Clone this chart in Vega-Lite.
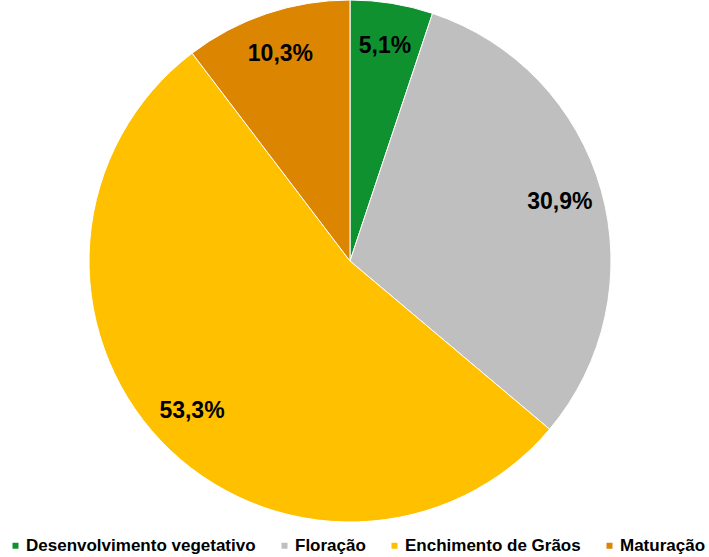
{
  "$schema": "https://vega.github.io/schema/vega-lite/v6.json",
  "width": 700,
  "height": 522,
  "autosize": {"type": "none"},
  "padding": {"left": 0, "right": 9, "top": 0, "bottom": 35},
  "background": "white",
  "config": {"view": {"stroke": null}, "font": "Liberation Sans"},
  "data": {
    "values": [
      {"fase": "Desenvolvimento vegetativo", "valor": 5.1, "rotulo": "5,1%", "ordem": 1},
      {"fase": "Floração", "valor": 30.9, "rotulo": "30,9%", "ordem": 2},
      {"fase": "Enchimento de Grãos", "valor": 53.3, "rotulo": "53,3%", "ordem": 3},
      {"fase": "Maturação", "valor": 10.3, "rotulo": "10,3%", "ordem": 4}
    ]
  },
  "encoding": {
    "theta": {"field": "valor", "type": "quantitative", "stack": true},
    "order": {"field": "ordem", "type": "quantitative"},
    "color": {
      "field": "fase",
      "type": "nominal",
      "sort": ["Desenvolvimento vegetativo", "Floração", "Enchimento de Grãos", "Maturação"],
      "scale": {
        "domain": ["Desenvolvimento vegetativo", "Floração", "Enchimento de Grãos", "Maturação"],
        "range": ["#0F9130", "#BFBFBF", "#FFC000", "#DC8500"]
      },
      "legend": {
        "orient": "none",
        "legendX": 7,
        "legendY": 537,
        "direction": "horizontal",
        "title": null,
        "symbolType": "square",
        "symbolSize": 36,
        "symbolStrokeWidth": 0,
        "labelFontSize": 17,
        "labelFontWeight": "bold",
        "labelColor": "#000000",
        "labelFont": "Liberation Sans",
        "labelLimit": 0,
        "columnPadding": 20,
        "symbolOffset": 0,
        "labelOffset": 2
      }
    }
  },
  "layer": [
    {
      "mark": {"type": "arc", "outerRadius": 261, "stroke": "white", "strokeWidth": 1}
    },
    {
      "mark": {"type": "text", "radius": 218, "fontSize": 23, "fontWeight": "bold", "font": "Liberation Sans", "color": "#000000"},
      "encoding": {
        "text": {"field": "rotulo", "type": "nominal"},
        "color": {"value": "#000000"}
      }
    }
  ]
}
